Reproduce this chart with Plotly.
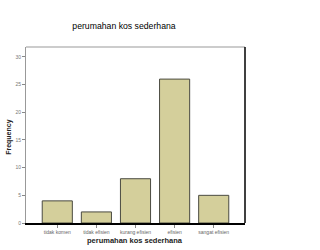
import plotly.graph_objects as go

categories = ["tidak komen", "tidak efisien", "kurang efisien", "efisien", "sangat efisien"]
frequency = [4, 2, 8, 26, 5]
y_ticks = [0, 5, 10, 15, 20, 25, 30]

fig = go.Figure()
fig.add_trace(go.Bar(
    x=categories, y=frequency, width=0.77,
    marker=dict(color="#D4CF9B", line=dict(color="#4a4a40", width=1)),
))

fig.update_layout(
    width=320, height=250,
    margin=dict(l=26, r=75, t=47, b=27),
    paper_bgcolor="white", plot_bgcolor="white",
    showlegend=False,
    font=dict(family="Liberation Sans, Arial", color="#000"),
    title=dict(text="perumahan kos sederhana", x=124/320, xanchor="center",
               y=1-26/250, yanchor="middle", font=dict(size=8.7, color="#000")),
    xaxis=dict(range=[-0.8, 4.8], showline=True, linecolor="#000", linewidth=1.5,
               ticks="outside", ticklen=3, tickcolor="#888", tickfont=dict(size=5, color="#666"),
               showgrid=False, zeroline=False, automargin=False),
    yaxis=dict(range=[0, 31.8], tickvals=y_ticks, showline=True, linecolor="#999", linewidth=1,
               ticks="outside", ticklen=3, tickcolor="#888", tickfont=dict(size=5, color="#777"),
               showgrid=False, zeroline=False, automargin=False),
    annotations=[
        dict(text="<b>perumahan kos sederhana</b>", xref="paper", yref="paper",
             x=0.498, y=-0.102, xanchor="center", yanchor="middle", showarrow=False,
             font=dict(size=7.5, color="#222")),
        dict(text="<b>Frequency</b>", xref="paper", yref="paper", textangle=-90,
             x=-0.078, y=0.489, xanchor="center", yanchor="middle", showarrow=False,
             font=dict(size=7, color="#222")),
    ],
    shapes=[
        dict(type="line", xref="paper", yref="paper", x0=0, x1=1, y0=1, y1=1,
             line=dict(color="#999", width=1)),
        dict(type="line", xref="paper", yref="paper", x0=1, x1=1, y0=0, y1=1,
             line=dict(color="#000", width=1.5)),
    ],
)

fig.write_html("out.html")
